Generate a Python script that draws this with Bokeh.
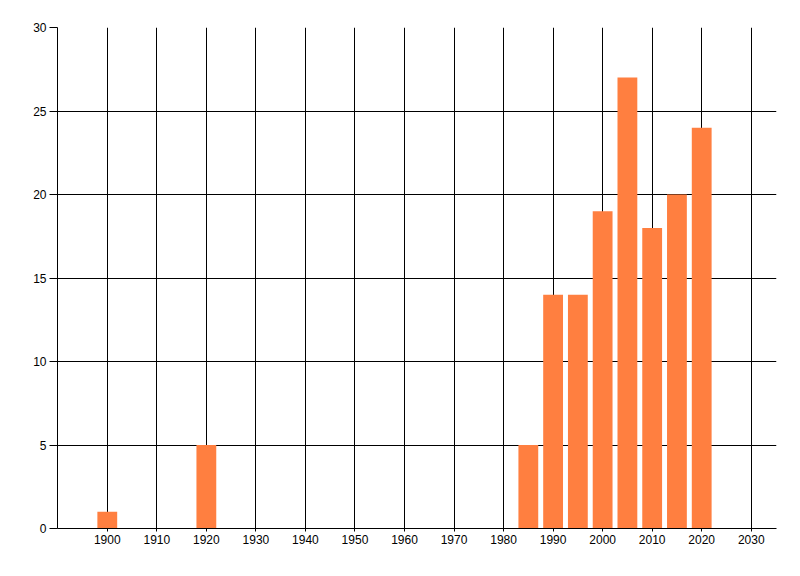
from bokeh.plotting import figure
from bokeh.models import Range1d, FixedTicker
from bokeh.embed import file_html
from bokeh.resources import INLINE

years = [1900, 1920, 1985, 1990, 1995, 2000, 2005, 2010, 2015, 2020]
counts = [1, 5, 5, 14, 14, 19, 27, 18, 20, 24]
x_ticks = [1900, 1910, 1920, 1930, 1940, 1950, 1960, 1970, 1980, 1990, 2000, 2010, 2020, 2030]
y_ticks = [0, 5, 10, 15, 20, 25, 30]

p = figure(width=792, height=568, output_backend="svg", toolbar_location=None,
           x_range=Range1d(1889.95, 2035.1), y_range=Range1d(0, 30),
           min_border_left=57, min_border_right=16, min_border_top=27, min_border_bottom=40)
p.outline_line_color = None
p.background_fill_color = "white"
p.border_fill_color = "white"

p.vbar(x=years, top=counts, width=4.0, color="#FF7F40", line_color=None)

for ax in (p.xaxis[0], p.yaxis[0]):
    ax.axis_line_color = "black"
    ax.major_tick_line_color = "black"
    ax.minor_tick_line_color = None
    ax.major_tick_in = 0
    ax.major_label_text_font = "Liberation Sans"
    ax.major_label_text_font_size = "12px"
    ax.major_label_text_color = "black"

p.xaxis.ticker = FixedTicker(ticks=x_ticks)
p.yaxis.ticker = FixedTicker(ticks=y_ticks)
p.xaxis.major_tick_out = 3
p.xaxis.major_label_standoff = 3
p.yaxis.major_tick_out = 8
p.yaxis.major_label_standoff = 3

p.xgrid.ticker = FixedTicker(ticks=x_ticks)
p.ygrid.ticker = FixedTicker(ticks=y_ticks)
for g in (p.xgrid[0], p.ygrid[0]):
    g.grid_line_color = "black"
    g.grid_line_width = 1
    g.grid_line_alpha = 1.0

open("out.html", "w").write(file_html(p, INLINE))
